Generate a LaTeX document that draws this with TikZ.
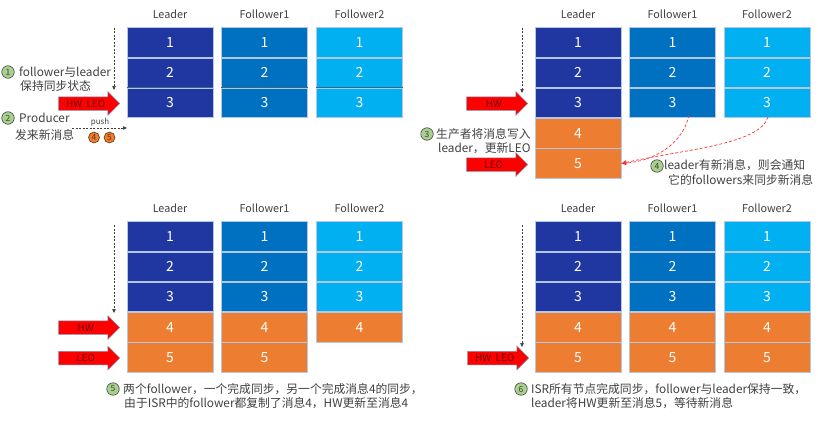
\documentclass[tikz,border=0pt]{standalone}
\usepackage{fontspec}
\setmainfont{Noto Sans CJK SC}
\usetikzlibrary{shapes.arrows,arrows.meta,calc}
\definecolor{cL}{HTML}{2036A0}
\definecolor{cF1}{HTML}{0070C0}
\definecolor{cF2}{HTML}{00B0F0}
\definecolor{cOr}{HTML}{ED7D31}
\definecolor{cGr}{HTML}{A9D18E}
\definecolor{cTxt}{HTML}{404040}
\definecolor{cBorder}{HTML}{B4C7E7}
\definecolor{cArrTxt}{HTML}{6A0000}
\definecolor{cArrBorder}{HTML}{7F8FA8}
\definecolor{cSep}{HTML}{2F6A8A}
\definecolor{cOrDark}{HTML}{6B3310}
\newcommand\drawcol[6]{%
  \node[collabel] (#1-h) at (#2,{14+#3}) {#6};
  \foreach \r in {1,...,#5}{%
    \ifnum\r>3 \def\cc{cOr}\else\def\cc{#4}\fi
    \node[cell,fill=\cc] (#1-\r) at (#2,{42.5+#3+(\r-1)*30.25}) {\r};
  }%
}
\begin{document}
\begin{tikzpicture}[x=1pt,y=-1pt,
  cell/.style={draw=cBorder, line width=0.6pt, minimum width=86pt, minimum height=29.5pt,
    inner sep=0pt, text=white, font=\fontsize{14}{14}\selectfont},
  collabel/.style={text=cTxt, inner sep=0pt, font=\fontsize{10.8}{12}\selectfont},
  blockarrow/.style={single arrow, fill=red, draw=cArrBorder, line width=0.5pt,
    minimum height=61pt, single arrow head extend=5pt, inner xsep=2pt, inner ysep=3pt,
    text height=7pt, text depth=0pt, text=cArrTxt, font=\fontsize{10}{10}\selectfont, anchor=tip},
  gcirc/.style={circle, fill=cGr, draw=cTxt, line width=0.6pt, minimum size=12.5pt,
    inner sep=0pt, text=cTxt, font=\fontsize{8.5}{8.5}\selectfont},
  ocirc/.style={circle, fill=cOr, draw=cOrDark, line width=0.6pt, minimum size=11pt,
    inner sep=0pt, text=cOrDark, font=\fontsize{8.5}{8.5}\selectfont},
  txt/.style={anchor=west, inner sep=0pt, text=cTxt, font=\fontsize{11.8}{12}\selectfont},
  smalltxt/.style={inner sep=0pt, text=cTxt, font=\fontsize{8}{8}\selectfont},
  vdash/.style={draw=cTxt, line width=0.6pt, dash pattern=on 2pt off 1.5pt,
    -{Triangle[length=4pt,width=3.5pt]}},
  reddash/.style={draw=red!80!white, line width=0.7pt, dash pattern=on 3pt off 2pt,
    -{Triangle[length=5pt,width=4pt]}},
  sepline/.style={draw=cSep, line width=1pt}
]
\useasboundingbox (0,0) rectangle (818,420);

% ---------- panel a (top left)
\drawcol{a-L}{170}{0}{cL}{3}{Leader}
\drawcol{a-F1}{264.5}{0}{cF1}{3}{Follower1}
\drawcol{a-F2}{359.5}{0}{cF2}{3}{Follower2}
\foreach \c in {L,F1,F2}{\draw[sepline] (a-\c-2.south west) -- (a-\c-2.south east);}
\node[blockarrow] (a-arr) at (120,103.5) {HW\ \ LEO};
\coordinate (a-d0) at (114,28);
\coordinate (a-d1) at (114,90);
\draw[vdash] (a-d0) -- (a-d1);
\node[gcirc] (a-c1) at (8,72) {1};
\node[txt] (a-t1) at (19,72) {follower与leader};
\node[txt] (a-t2) at (20,86) {保持同步状态};
\node[gcirc] (a-c2) at (8,118) {2};
\node[txt] (a-t3) at (19,118) {Producer};
\node[txt] (a-t4) at (15,135) {发来新消息};
\coordinate (a-p0) at (72,128);
\coordinate (a-p1) at (127,128);
\draw[vdash] (a-p0) -- (a-p1);
\node[smalltxt] (a-push) at (100,122) {push};
\node[ocirc] (a-o4) at (94,137.5) {4};
\node[ocirc] (a-o5) at (109.5,137.5) {5};

% ---------- panel b (top right)
\drawcol{b-L}{578}{0}{cL}{5}{Leader}
\drawcol{b-F1}{672.5}{0}{cF1}{3}{Follower1}
\drawcol{b-F2}{767}{0}{cF2}{3}{Follower2}
\node[blockarrow] (b-hw) at (528,103.5) {HW};
\node[blockarrow] (b-leo) at (528,164.5) {LEO};
\coordinate (b-d0) at (522,28);
\coordinate (b-d1) at (522,93);
\draw[vdash] (b-d0) -- (b-d1);
\node[gcirc] (b-c3) at (427,134) {3};
\node[txt] (b-t1) at (436,134) {生产者将消息写入};
\node[txt] (b-t2) at (438,148.5) {leader，更新LEO};
\coordinate (b-s1) at (689,115);
\coordinate (b-s2) at (768,117);
\draw[reddash] (b-s1) .. controls (684,140) and (660,160) .. (b-L-5.east);
\draw[reddash] (b-s2) .. controls (760,145) and (680,150) .. (b-L-5.east);
\node[gcirc] (b-c4) at (657,166) {4};
\node[txt] (b-t3) at (664,165) {leader有新消息，则会通知};
\node[txt] (b-t4) at (668,180) {它的followers来同步新消息};

% ---------- panel c (bottom left)
\drawcol{c-L}{170}{194}{cL}{5}{Leader}
\drawcol{c-F1}{264.5}{194}{cF1}{5}{Follower1}
\drawcol{c-F2}{359.5}{194}{cF2}{4}{Follower2}
\node[blockarrow] (c-hw) at (120,327.5) {HW};
\node[blockarrow] (c-leo) at (120,358) {LEO};
\coordinate (c-d0) at (114,225);
\coordinate (c-d1) at (114,313);
\draw[vdash] (c-d0) -- (c-d1);
\node[gcirc] (c-c5) at (113,389) {5};
\node[txt] (c-t1) at (123,389) {两个follower，一个完成同步，另一个完成消息4的同步，};
\node[txt] (c-t2) at (124,403) {由于ISR中的follower都复制了消息4，HW更新至消息4};

% ---------- panel d (bottom right)
\drawcol{d-L}{578}{194}{cL}{5}{Leader}
\drawcol{d-F1}{672.5}{194}{cF1}{5}{Follower1}
\drawcol{d-F2}{767}{194}{cF2}{5}{Follower2}
\node[blockarrow] (d-arr) at (529,358) {HW\ \ LEO};
\coordinate (d-d0) at (522,225);
\coordinate (d-d1) at (522,347);
\draw[vdash] (d-d0) -- (d-d1);
\node[gcirc] (d-c6) at (521,389) {6};
\node[txt] (d-t1) at (531,389) {ISR所有节点完成同步，follower与leader保持一致，};
\node[txt] (d-t2) at (531,403) {leader将HW更新至消息5，等待新消息};
\end{tikzpicture}
\end{document}
